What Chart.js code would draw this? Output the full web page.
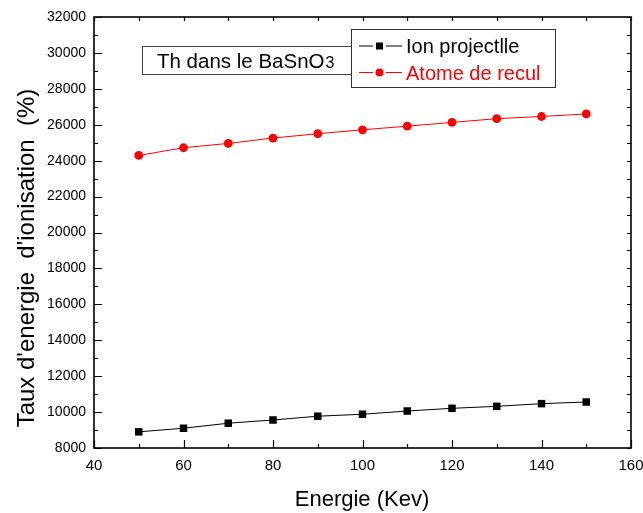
<!DOCTYPE html>
<html>
<head>
<meta charset="utf-8">
<script src="https://cdn.jsdelivr.net/npm/chart.js@4"></script>
<style>
html,body{margin:0;padding:0;background:#fff;}
#wrap{width:643px;height:513px;}
</style>
</head>
<body>
<div id="wrap"><canvas id="c" width="643" height="513"></canvas></div>
<script>
const energies = [50, 60, 70, 80, 90, 100, 110, 120, 130, 140, 150];
const ionProjectile = [8900, 9100, 9380, 9560, 9770, 9880, 10060, 10210, 10320, 10470, 10560];
const atomeRecul = [24290, 24720, 24960, 25260, 25500, 25720, 25920, 26130, 26340, 26460, 26600];
const xTickValues = [40, 60, 80, 100, 120, 140, 160];
const yTickValues = [8000, 10000, 12000, 14000, 16000, 18000, 20000, 22000, 24000, 26000, 28000, 30000, 32000];
const xTitle = 'Energie (Kev)';
const yTitle = "Taux d'energie  d'ionisation  (%)";
const boxTitle = 'Th dans le BaSnO';
const boxTitleSub = '3';
const seriesNames = ['Ion projectlle', 'Atome de recul'];

const FONT = '"Liberation Sans", Arial, sans-serif';

const toPts = (xs, ys) => xs.map((x, i) => ({x: x, y: ys[i]}));

const decor = {
  id: 'decor',
  afterDraw(chart) {
    const ctx = chart.ctx;
    const a = chart.chartArea;
    const xs = chart.scales.x, ys = chart.scales.y;
    ctx.save();
    // ticks
    ctx.strokeStyle = '#000';
    ctx.lineWidth = 1.2;
    ctx.beginPath();
    for (let v = 40; v <= 160; v += 10) {
      const px = Math.round(xs.getPixelForValue(v)) + 0.5;
      const major = (v % 20 === 0);
      const L = major ? 8 : 4;
      ctx.moveTo(px, a.bottom); ctx.lineTo(px, a.bottom - L);
      ctx.moveTo(px, a.top); ctx.lineTo(px, a.top + 4);
    }
    for (let v = 8000; v <= 32000; v += 1000) {
      const py = Math.round(ys.getPixelForValue(v)) + 0.5;
      const major = (v % 2000 === 0);
      const L = major ? 8 : 4;
      ctx.moveTo(a.left, py); ctx.lineTo(a.left + L, py);
      ctx.moveTo(a.right, py); ctx.lineTo(a.right - 4, py);
    }
    ctx.stroke();
    // frame
    ctx.lineWidth = 1.6;
    ctx.strokeRect(a.left, a.top, a.right - a.left, a.bottom - a.top);

    // axis titles
    ctx.fillStyle = '#000';
    ctx.font = '22px ' + FONT;
    ctx.textAlign = 'center';
    ctx.textBaseline = 'alphabetic';
    ctx.fillText(xTitle, 362, 506);
    ctx.save();
    ctx.translate(34, 258);
    ctx.rotate(-Math.PI / 2);
    ctx.font = '24px ' + FONT;
    ctx.fillText(yTitle, 0, 0);
    ctx.restore();

    // title box
    ctx.fillStyle = '#fff';
    ctx.fillRect(142, 46, 209, 28);
    ctx.strokeStyle = '#444';
    ctx.lineWidth = 1;
    ctx.strokeRect(142.5, 46.5, 209, 28);
    ctx.fillStyle = '#000';
    ctx.textAlign = 'left';
    ctx.font = '20.5px ' + FONT;
    ctx.fillText(boxTitle, 157, 68);
    const w = ctx.measureText(boxTitle).width;
    ctx.font = '16px ' + FONT;
    ctx.fillText(boxTitleSub, 157 + w + 1, 68);

    // legend box
    ctx.fillStyle = '#fff';
    ctx.fillRect(351, 29, 204, 58);
    ctx.strokeStyle = '#333';
    ctx.lineWidth = 1;
    ctx.strokeRect(351.5, 29.5, 204, 58);
    const rows = [
      {y: 46, base: 53, color: '#000', style: 'rect', text: seriesNames[0]},
      {y: 72.5, base: 80, color: '#ff0000', style: 'circle', text: seriesNames[1]}
    ];
    rows.forEach(r => {
      ctx.strokeStyle = r.color;
      ctx.lineWidth = 1.2;
      ctx.beginPath();
      ctx.moveTo(359, r.y); ctx.lineTo(373, r.y);
      ctx.moveTo(386, r.y); ctx.lineTo(402, r.y);
      ctx.stroke();
      ctx.fillStyle = r.color;
      if (r.style === 'rect') {
        ctx.fillRect(376, r.y - 3.5, 7, 7);
      } else {
        ctx.beginPath(); ctx.arc(379.5, r.y, 4, 0, Math.PI * 2); ctx.fill();
      }
      ctx.font = '20px ' + FONT;
      ctx.fillText(r.text, 406, r.base);
    });
    ctx.restore();
  }
};

new Chart(document.getElementById('c'), {
  type: 'line',
  data: {
    datasets: [
      {
        label: seriesNames[0],
        data: toPts(energies, ionProjectile),
        borderColor: '#000',
        backgroundColor: '#000',
        borderWidth: 1,
        pointStyle: 'rect',
        pointRadius: 5.3,
        pointBorderWidth: 0,
        pointBackgroundColor: '#000',
        tension: 0
      },
      {
        label: seriesNames[1],
        data: toPts(energies, atomeRecul),
        borderColor: '#ff0000',
        backgroundColor: '#ff0000',
        borderWidth: 1,
        pointStyle: 'circle',
        pointRadius: 4.4,
        pointBorderWidth: 0,
        pointBackgroundColor: '#ff0000',
        tension: 0
      }
    ]
  },
  options: {
    responsive: false,
    animation: false,
    layout: {padding: {left: 0, right: 0, top: 17, bottom: 0}},
    plugins: {legend: {display: false}, title: {display: false}, tooltip: {enabled: false}},
    scales: {
      x: {
        type: 'linear',
        min: 40, max: 160,
        afterFit(s) { s.height = 65; s.paddingLeft = 0; s.paddingRight = 12; },
        afterBuildTicks(s) { s.ticks = xTickValues.map(v => ({value: v})); },
        grid: {display: false, drawTicks: false},
        border: {display: false},
        ticks: {color: '#000', padding: 9, font: {family: FONT, size: 15}, maxRotation: 0}
      },
      y: {
        type: 'linear',
        min: 8000, max: 32000,
        afterFit(s) { s.width = 94; s.paddingTop = 0; s.paddingBottom = 0; },
        afterBuildTicks(s) { s.ticks = yTickValues.map(v => ({value: v})); },
        grid: {display: false, drawTicks: false},
        border: {display: false},
        ticks: {color: '#000', padding: 8, font: {family: FONT, size: 14},
          callback: v => String(v)}
      }
    }
  },
  plugins: [decor]
});
</script>
</body>
</html>
